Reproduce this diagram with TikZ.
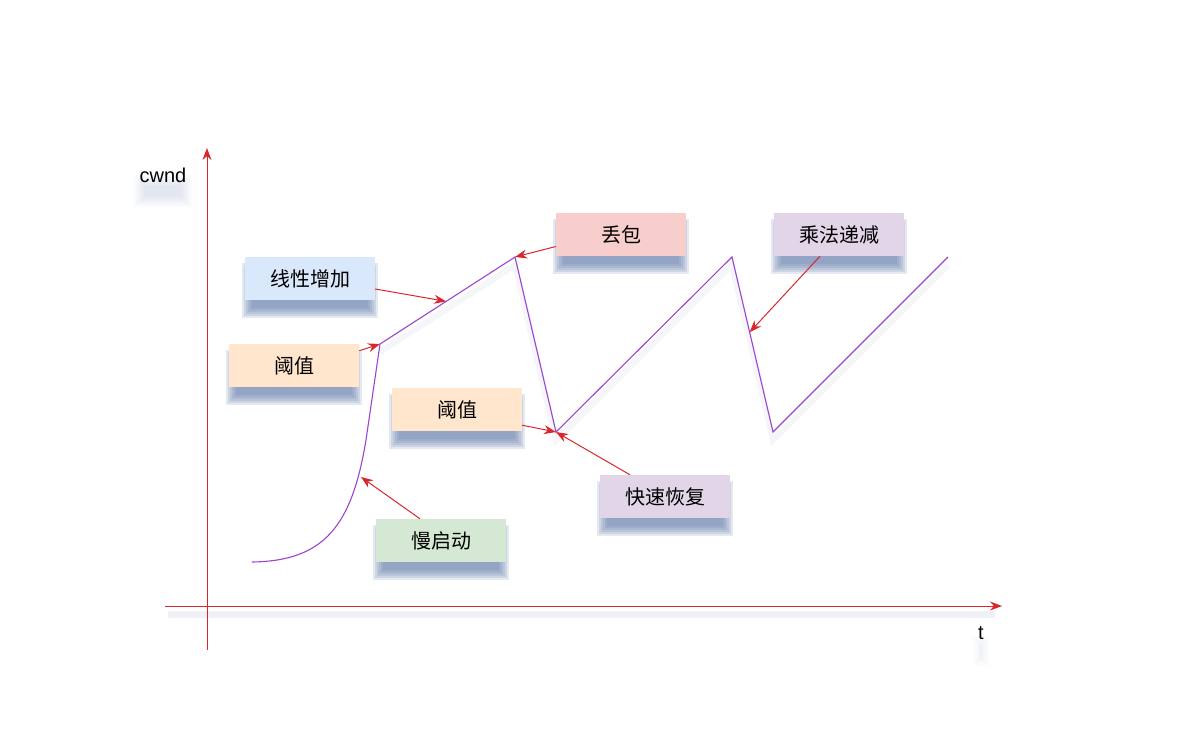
\documentclass[tikz,border=0pt]{standalone}
\usepackage{fontspec}
\setmainfont{Liberation Sans}
\newfontfamily\cjk{Noto Sans CJK SC}
\usetikzlibrary{arrows.meta,calc}
\definecolor{cblue}{HTML}{DAE8FC}
\definecolor{cpeach}{HTML}{FFE6CC}
\definecolor{cpink}{HTML}{F8CECC}
\definecolor{clav}{HTML}{E1D5E7}
\definecolor{cgreen}{HTML}{D5E8D4}
\definecolor{cshadow}{HTML}{5F78A8}
\definecolor{cred}{HTML}{D9262C}
\definecolor{cpurple}{HTML}{9D44CF}
\pgfdeclarelayer{background}
\pgfsetlayers{background,main}
\tikzset{
  box/.style={fill=#1, minimum width=130pt, minimum height=43pt, inner sep=0pt,
    font=\cjk\fontsize{20}{22}\selectfont},
  lbl/.style={font=\fontsize{20}{22}\selectfont, inner sep=2pt},
  axis/.style={draw=cred, line width=1pt, -{Stealth[length=12pt,width=9pt]}},
  pointer/.style={draw=cred, line width=1pt, -{Stealth[length=12pt,width=9pt]}},
  curve/.style={draw=cpurple, line width=1.1pt, line join=miter},
  shadowlayer/.style={fill=cshadow, fill opacity=#1},
}
% soft shadow: node name, vertical shift (pt), opacity per layer
\newcommand\softshadow[3]{%
  \begin{pgfonlayer}{background}
  \foreach \m in {-4,-2,0,2,4,6}{%
    \fill[shadowlayer=#3]
      ([xshift=-\m pt+3pt, yshift=-#2pt+\m pt]#1.north west)
      rectangle ([xshift=\m pt-3pt, yshift=-#2pt-\m pt]#1.south east);
  }
  \end{pgfonlayer}}
\begin{document}
\begin{tikzpicture}[x=1pt,y=-1pt]
\useasboundingbox (0,0) rectangle (1200,750);
% faint shadows of axes and curve
\begin{scope}[transform canvas={yshift=-8pt}]
  \draw[line width=7pt, cshadow!20, opacity=0.5] (168,606) -- (995,606);
  \draw[line width=6pt, cshadow!20, opacity=0.35] (380,344) -- (515,257) -- (556,432) -- (732,257) -- (773,432) -- (948,257);
\end{scope}
% axes
\coordinate (yb) at (207,650);
\coordinate (yt) at (207,148);
\coordinate (xl) at (165,606);
\coordinate (xr) at (1002,606);
\draw[axis] (yb) -- (yt);
\draw[axis] (xl) -- (xr);
\node[lbl] (cwnd) at (163,175) {cwnd};
\node[lbl] (t) at (981,633) {t};
\softshadow{cwnd}{16}{0.03}
\softshadow{t}{18}{0.02}
% curve
\coordinate (p0) at (252,562);
\coordinate (p1) at (380,344);
\coordinate (p2) at (515,257);
\coordinate (p3) at (556,432);
\coordinate (p4) at (732,257);
\coordinate (p5) at (773,432);
\coordinate (p6) at (948,257);
\coordinate (sst) at (361,477);
\draw[curve] (p0) .. controls (325,561) and (352,525) .. (366,440) -- (p1) -- (p2) -- (p3) -- (p4) -- (p5) -- (p6);
% boxes
\node[box=cblue] (lin) at (310,278.5) {线性增加};
\node[box=cpeach] (th1) at (294,365.5) {阈值};
\node[box=cpeach] (th2) at (457,409.5) {阈值};
\node[box=cpink] (loss) at (621,234.5) {丢包};
\node[box=clav] (md) at (839,234.5) {乘法递减};
\node[box=clav] (fr) at (665,496.5) {快速恢复};
\node[box=cgreen] (ss) at (441,540.5) {慢启动};
\foreach \n in {lin,th1,th2,loss,md,fr,ss}{\softshadow{\n}{12}{0.17}}
% pointers
\draw[pointer] (lin.east) ++(0,10.5) -- ($(p1)!0.49!(p2)$);
\draw[pointer] (th1.north east) ++(0,7) -- (p1);
\draw[pointer] (loss.west) ++(0,12) -- (p2);
\draw[pointer] (md.south) ++(-19,0) -- ($(p4)!0.43!(p5)$);
\draw[pointer] (th2.south east) ++(0,-6) -- (p3);
\draw[pointer] (fr.north) ++(-35,0) -- (p3);
\draw[pointer] (ss.north) ++(-21,0) -- (sst);
\end{tikzpicture}
\end{document}
